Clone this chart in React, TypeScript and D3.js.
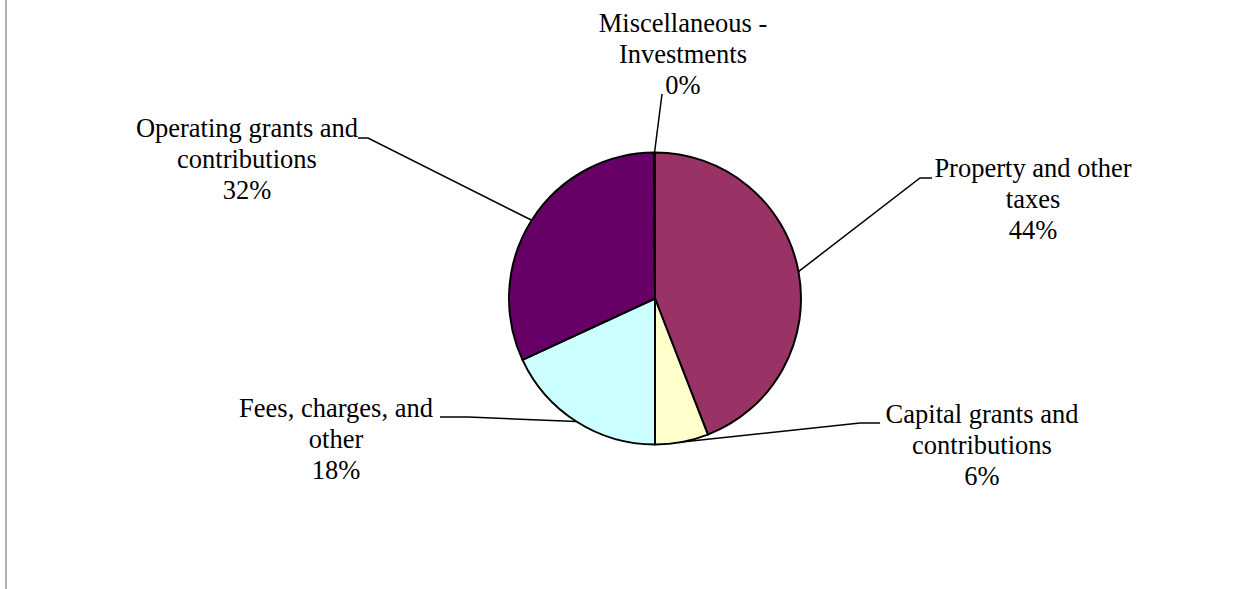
import React from 'react';
import * as d3 from 'd3';

// slice data, clockwise from 12 o'clock
const categories = [
  'Property and other\ntaxes',
  'Capital grants and\ncontributions',
  'Fees, charges, and\nother',
  'Operating grants and\ncontributions',
  'Miscellaneous -\nInvestments',
];
const values = [44.1, 5.9, 18.1, 31.8, 0.1];
const colors = ['#993366', '#FFFFCC', '#CCFFFF', '#660066', '#FF8080'];

// label layout: centre x, first baseline, leader elbow and leader end
const labelX = [1033, 982, 336, 247, 683];
const labelY = [177, 423, 417, 137, 32];
const elbows: [number, number][] = [[920, 178], [860, 423], [468, 417], [368, 138], [662, 94]];
const ends: [number, number][] = [[932, 178], [880, 423], [440, 417], [358, 138], [662, 94]];

const width = 1251;
const height = 589;
const cx = 655;
const cy = 298.5;
const radius = 146;
const lineH = 31;

export default function App() {
  const total = d3.sum(values);
  const pie = d3.pie<number>().sort(null).value(d => d);
  const arcs = pie(values);
  const arc = d3.arc<d3.PieArcDatum<number>>().innerRadius(0).outerRadius(radius);
  const edge = d3.arc<d3.PieArcDatum<number>>().innerRadius(radius).outerRadius(radius);
  const pct = d3.format('.0%');

  return (
    <svg width={width} height={height} style={{position: 'absolute', left: 0, top: 0, background: '#fff'}}>
      <line x1={6} x2={6} y1={0} y2={height} stroke="#b0b0b0" strokeWidth={2} />
      <g transform={`translate(${cx},${cy})`}>
        {arcs.map((a, i) => (
          <path key={i} d={arc(a) || ''} fill={colors[i]} stroke="#000" strokeWidth={2} strokeLinejoin="round" />
        ))}
      </g>
      {arcs.map((a, i) => {
        const [ex, ey] = edge.centroid(a);
        const pts = [[cx + ex, cy + ey], elbows[i], ends[i]] as [number, number][];
        return (
          <path key={'l' + i} d={d3.line()(pts) || ''} fill="none" stroke="#000" strokeWidth={1.5} />
        );
      })}
      {categories.map((c, i) => {
        const lines = [...c.split('\n'), pct(values[i] / total)];
        return (
          <text key={'t' + i} x={labelX[i]} y={labelY[i]} textAnchor="middle"
            fontFamily="'Liberation Serif', 'Times New Roman', serif" fontSize={26.5} fill="#000">
            {lines.map((s, j) => (
              <tspan key={j} x={labelX[i]} dy={j === 0 ? 0 : lineH}>{s}</tspan>
            ))}
          </text>
        );
      })}
    </svg>
  );
}
